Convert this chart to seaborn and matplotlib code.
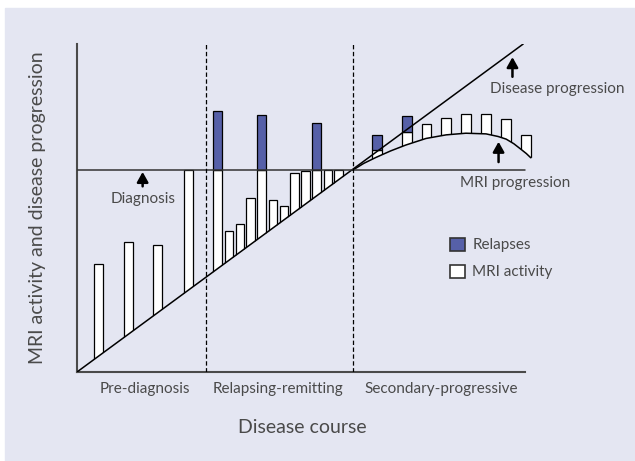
import numpy as np
import pandas as pd
import matplotlib
matplotlib.use('Agg')
import matplotlib.pyplot as plt
from matplotlib.patches import Polygon, Patch, Rectangle
import seaborn as sns

# values (x: disease course 0-100, y: activity/progression 0-100)
prediag_x = [4.7, 11.45, 18.05, 24.8]
prediag_top = [32.9, 39.7, 38.6, 61.5]

rr_x = [31.4, 33.9, 36.4, 38.7, 41.2, 43.75, 46.2, 48.5, 51.0, 53.5, 56.0, 58.3]
rr_top = [61.5, 43.0, 45.1, 53.1, 61.5, 52.4, 50.6, 60.8, 61.2, 61.5, 61.5, 61.5]

sp_x = [66.9, 73.6, 78.0, 82.4, 86.9, 91.3, 95.8, 100.3]
sp_top = [67.7, 73.3, 75.6, 77.3, 78.7, 78.7, 77.2, 72.3]

relapse_x = [31.4, 41.2, 53.5, 66.9, 73.6]
relapse_bottom = [61.5, 61.5, 61.5, 67.7, 73.3]
relapse_top = [79.6, 78.3, 75.8, 72.3, 78.1]

diag_x = [0, 99.6]
diag_y = [0, 100]
mri_level = 61.5
curve_x = [61.5, 64.0, 66.7, 70.0, 73.4, 77.9, 82.4, 86.8, 91.3, 94.0, 95.8, 97.5, 99.1, 100.3, 101.3]
curve_y = [61.5, 63.6, 65.4, 67.4, 69.2, 71.2, 72.3, 72.8, 72.6, 71.8, 71.0, 69.6, 67.9, 66.6, 65.3]

phase_bounds = [28.8, 61.5]
phase_names = ['Pre-diagnosis', 'Relapsing-remitting', 'Secondary-progressive']
phase_centers = [15.2, 44.8, 81.2]

bg = '#e4e6f2'
blue = '#5660a8'
txt = '#4a4a4a'

sns.set_theme(style='white')
plt.rcParams['font.family'] = ['Lato', 'DejaVu Sans']

fig = plt.figure(figsize=(6.35, 4.61), dpi=100)
fig.patch.set_facecolor('white')
fig.add_artist(Rectangle((5 / 635, 0), 1, 453 / 461, transform=fig.transFigure,
                         color=bg, zorder=-10))
ax = fig.add_axes([77 / 635, 89 / 461, 470.4 / 635, 328 / 461])
ax.set_facecolor('none')
ax.set_xlim(0, 105)
ax.set_ylim(0, 100)

# bars sit on the progression lines: clip them to the area above
clip = Polygon([(0, 0)] + list(zip(curve_x, curve_y)) +
               [(110, curve_y[-1]), (110, 110), (0, 110)],
               closed=True, transform=ax.transData, fill=False, lw=0)
ax.add_patch(clip)

for xs, tops, w in [(prediag_x, prediag_top, 2.0), (rr_x, rr_top, 1.95), (sp_x, sp_top, 2.2)]:
    bars = ax.bar(xs, tops, width=w, bottom=0, color='white', edgecolor='black',
                  linewidth=0.9, zorder=2)
    for b in bars:
        b.set_clip_path(clip)

rel_w = [1.95, 1.95, 1.95, 2.2, 2.2]
ax.bar(relapse_x, np.array(relapse_top) - np.array(relapse_bottom), width=rel_w,
       bottom=relapse_bottom, color=blue, edgecolor='black', linewidth=0.9, zorder=2)

sns.lineplot(x=diag_x, y=diag_y, ax=ax, color='black', lw=1.1, zorder=3)
sns.lineplot(x=curve_x, y=curve_y, ax=ax, color='black', lw=1.1, zorder=3, sort=False)
ax.plot([0, 100], [mri_level, mri_level], color='#333333', lw=1.1, zorder=3)
ax.vlines(phase_bounds, 0, 100, colors='black', lw=0.9, linestyles=(0, (3.5, 2)), zorder=3)

arrow = dict(arrowstyle='-|>,head_width=0.28,head_length=0.5', color='black', lw=1.8,
             shrinkA=0, shrinkB=0)
ax.annotate('', xy=(14.65, 61.0), xytext=(14.65, 56.6), arrowprops=arrow, zorder=4)
ax.annotate('', xy=(97.2, 96.0), xytext=(97.2, 90.0), arrowprops=arrow, zorder=4)
ax.annotate('', xy=(94.1, 70.2), xytext=(94.1, 64.0), arrowprops=arrow, zorder=4)

ax.text(14.8, 52.7, 'Diagnosis', ha='center', va='center', fontsize=11, color=txt)
ax.text(107.1, 86.3, 'Disease progression', ha='center', va='center', fontsize=11, color=txt)
ax.text(97.8, 57.5, 'MRI progression', ha='center', va='center', fontsize=11, color=txt)

for name, cx in zip(phase_names, phase_centers):
    ax.text(cx, -5.3, name, ha='center', va='center', fontsize=11, color=txt)

ax.set_xlabel('Disease course', fontsize=14, color=txt, va='center')
ax.xaxis.set_label_coords(0.4794, -0.1707)
ax.set_ylabel('MRI activity and disease progression', fontsize=14, color=txt, va='center')
ax.yaxis.set_label_coords(-0.083, 0.5)

ax.set_xticks([])
ax.set_yticks([])
sns.despine(ax=ax)
ax.spines['bottom'].set_bounds(0, 100)
for s in ['left', 'bottom']:
    ax.spines[s].set_color('#4a4a4a')
    ax.spines[s].set_linewidth(1.5)

handles = [Patch(facecolor=blue, edgecolor='#333333', lw=1.2, label='Relapses'),
           Patch(facecolor='white', edgecolor='#333333', lw=1.2, label='MRI activity')]
leg = ax.legend(handles=handles, loc='upper left', bbox_to_anchor=(0.793, 0.41),
                frameon=False, fontsize=11, handlelength=0.95, handleheight=0.95,
                handletextpad=0.5, labelspacing=0.8, borderpad=0, borderaxespad=0)
for t in leg.get_texts():
    t.set_color(txt)

fig.savefig('out.png', dpi=100)
